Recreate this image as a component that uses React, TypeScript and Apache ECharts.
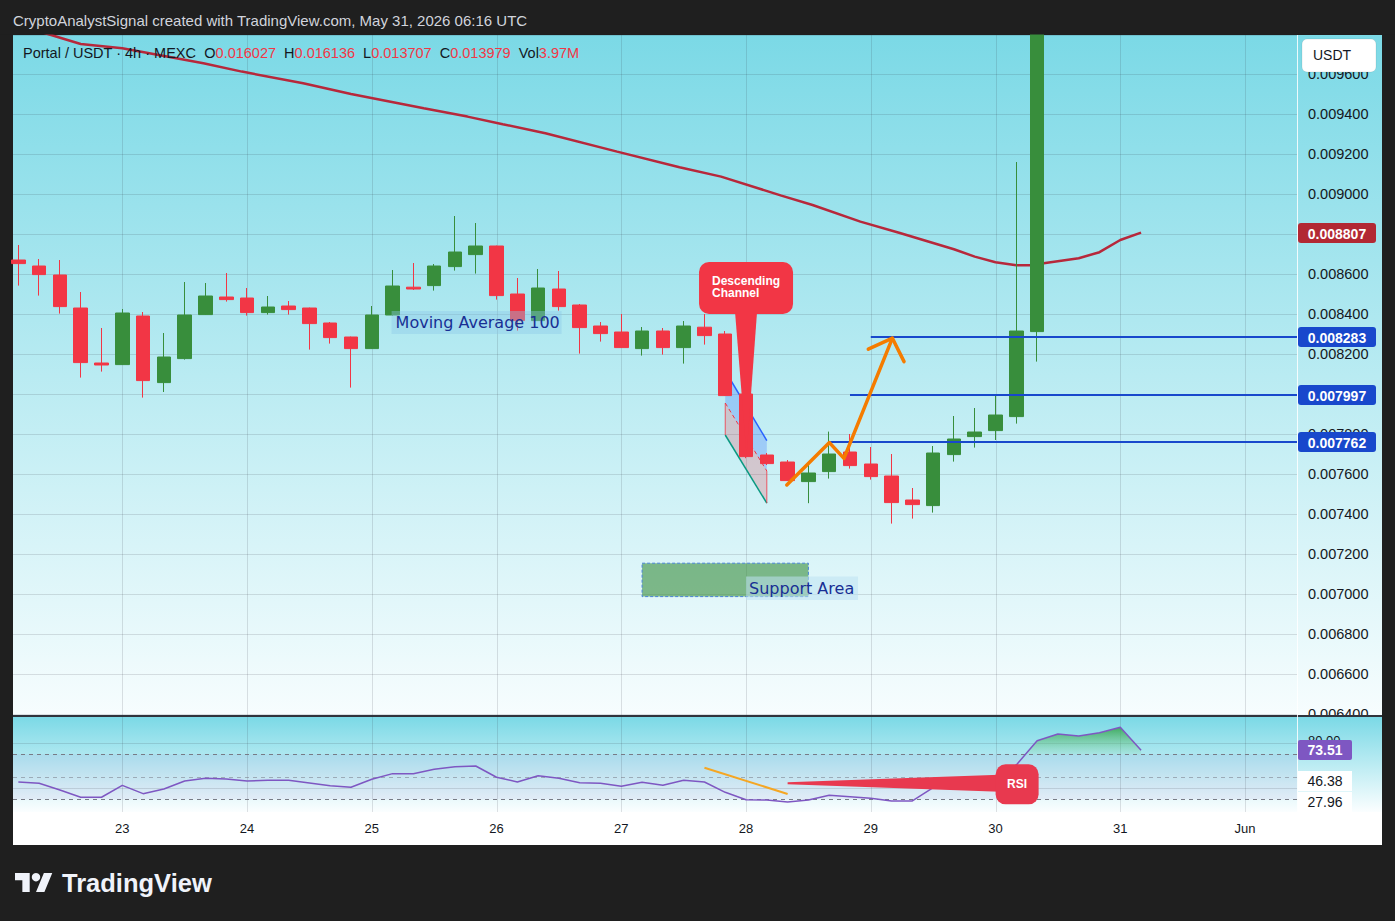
import React, { useEffect, useRef } from "react";
import * as echarts from "echarts";

const UI_FONT = '"Liberation Sans", Arial, sans-serif';
const DRAW_FONT = '"DejaVu Sans", Verdana, sans-serif';

// ---------- axes (x = candle index, 0 = 23 May 00:00, one step = 4h) ----------
const dayTicks = [0, 6, 12, 18, 24, 30, 36, 42, 48, 54];
const dayLabels = ["23", "24", "25", "26", "27", "28", "29", "30", "31", "Jun"];
const xMin = -5.257;
const xMax = 56.5;
const priceMin = 0.0064;
const priceMax = 0.009795;
const priceStep = 0.0002;
const rsiMin = 18.71;
const rsiMax = 104.04;

// ---------- candles [open, close, low, high] ----------
const firstCandle = -5;
const ohlc = [
  [0.00867, 0.008652, 0.008542, 0.008745],
  [0.00864, 0.008597, 0.008492, 0.008675],
  [0.008595, 0.008437, 0.008402, 0.00867],
  [0.00843, 0.008157, 0.008082, 0.00851],
  [0.008155, 0.008145, 0.008112, 0.00833],
  [0.008147, 0.008405, 0.008145, 0.008425],
  [0.00839, 0.008067, 0.007982, 0.00841],
  [0.008057, 0.008185, 0.00801, 0.008305],
  [0.008177, 0.008395, 0.008172, 0.00856],
  [0.008397, 0.00849, 0.008395, 0.008555],
  [0.008485, 0.008472, 0.008462, 0.008605],
  [0.00848, 0.008407, 0.008392, 0.00853],
  [0.008407, 0.008435, 0.008397, 0.00849],
  [0.00844, 0.008422, 0.008397, 0.008465],
  [0.00843, 0.008352, 0.008222, 0.008432],
  [0.008355, 0.008282, 0.008252, 0.00836],
  [0.008285, 0.008227, 0.008032, 0.008287],
  [0.008227, 0.008395, 0.008225, 0.00844],
  [0.008395, 0.00854, 0.008392, 0.00862],
  [0.008534, 0.008525, 0.00852, 0.008655],
  [0.008542, 0.00864, 0.008517, 0.00865],
  [0.008637, 0.00871, 0.008617, 0.00889],
  [0.008697, 0.00874, 0.008602, 0.008855],
  [0.00874, 0.008492, 0.008472, 0.008742],
  [0.0085, 0.008367, 0.008317, 0.00858],
  [0.008367, 0.00853, 0.008365, 0.008625],
  [0.008525, 0.008437, 0.008417, 0.008615],
  [0.008445, 0.008332, 0.008202, 0.00845],
  [0.00834, 0.008302, 0.008262, 0.00836],
  [0.00831, 0.008232, 0.00823, 0.0084],
  [0.008227, 0.008315, 0.008192, 0.008335],
  [0.008315, 0.008232, 0.008197, 0.00833],
  [0.008232, 0.00834, 0.008152, 0.008365],
  [0.008334, 0.008292, 0.008247, 0.0084],
  [0.0083, 0.007992, 0.00799, 0.008315],
  [0.008, 0.007687, 0.007679, 0.008005],
  [0.007695, 0.007652, 0.007645, 0.007705],
  [0.00766, 0.007567, 0.007565, 0.00767],
  [0.007562, 0.007605, 0.007454, 0.007645],
  [0.007612, 0.0077, 0.007577, 0.007812],
  [0.00771, 0.007642, 0.007627, 0.0078],
  [0.00765, 0.007587, 0.007572, 0.007735],
  [0.00759, 0.007457, 0.007352, 0.0077],
  [0.00747, 0.007447, 0.007377, 0.00753],
  [0.007442, 0.007705, 0.007407, 0.00774],
  [0.007697, 0.007775, 0.007662, 0.00789],
  [0.007787, 0.00781, 0.007732, 0.00793],
  [0.007817, 0.007895, 0.00777, 0.00799],
  [0.007887, 0.008315, 0.007852, 0.00916],
  [0.008312, 0.01435, 0.008162, 0.0151],
  [0.01435, 0.0156, 0.0139, 0.0164],
  [0.0156, 0.0153, 0.0147, 0.0162],
  [0.0153, 0.0159, 0.0149, 0.0165],
  [0.0159, 0.016027, 0.0152, 0.0166],
  [0.016027, 0.013979, 0.013707, 0.016136],
];

// ---------- Moving Average 100 (vertices [index, price]) ----------
const maPoints = [
  [-5.26, 0.009852], [-3.7, 0.009804], [-2, 0.00975], [0, 0.009729], [3.9, 0.009654],
  [5.75, 0.009612], [8.7, 0.009554], [11, 0.0095], [14.5, 0.009429], [16.6, 0.009387],
  [18.3, 0.009349], [20.35, 0.009304], [23.8, 0.009212], [26.8, 0.009134], [28.8, 0.009087],
  [31.7, 0.008992], [33.2, 0.008945], [35.5, 0.008862], [37.4, 0.008805], [40, 0.008724],
  [41, 0.008687], [42, 0.008659], [43, 0.008644], [43.7, 0.008644], [44.4, 0.008655],
  [46, 0.008679], [47, 0.008709], [48, 0.00877], [49, 0.008807],
];
const maLast = 0.008807;

// ---------- RSI ----------
const rsiValues = [
  45.4, 44.2, 38.3, 31.8, 31.8, 42.4, 35.0, 39.2, 46.3, 48.7, 48.0, 46.3, 46.9, 46.9, 44.5,
  42.1, 40.7, 47.8, 52.8, 52.8, 56.7, 59.0, 59.6, 49.6, 45.4, 51.0, 48.7, 44.8, 44.2, 41.6,
  45.1, 42.4, 46.9, 45.4, 36.2, 29.6, 29.4, 27.6, 29.4, 33.6, 32.3, 30.9, 28.5, 28.5, 40.3,
  43.3, 45.6, 48.7, 60.5, 82.1, 88.0, 86.3, 89.2, 94.0, 73.51,
];
const rsiLast = 73.51;
const rsiGridLevels = [80, 40];
const rsiBandLevels = [70, 50, 30];
const rsiSideValues = [46.38, 27.96];

// ---------- drawings ----------
const levelStartK = [36, 35, 34];
const levelPrices = [0.008283, 0.007997, 0.007762];
const channelK = [29, 31];
const channelTop = [0.008115, 0.007767];
const channelMid = [0.007955, 0.007615];
const channelBottom = [0.007795, 0.007454];
const arrowK = [31.96, 34.01, 34.71, 37.04];
const arrowP = [0.007545, 0.007757, 0.007678, 0.008279];
const arrowHeadK = [35.88, 37.04, 37.6];
const arrowHeadP = [0.008224, 0.008279, 0.008162];
const supportK = [25, 33];
const supportP = [0.006987, 0.007154];
const supportLabelAt = [30, 0.0070285];
const maLabelAt = [13, 0.0083575];
const channelCalloutTip = [30, 0.007695];
const rsiNoteK = [28, 32];
const rsiNoteV = [58.1, 34.7];
const rsiCalloutTip = [32, 44.2];

// ---------- texts ----------
const headerText = "CryptoAnalystSignal created with TradingView.com, May 31, 2026 06:16 UTC";
const symbolText = "Portal / USDT · 4h · MEXC";
const legendKeys = ["O", "H", "L", "C", "Vol"];
const legendValues = ["0.016027", "0.016136", "0.013707", "0.013979", "3.97M"];

const gridColor = "rgba(42,46,57,0.14)";
const GREEN = "#388e3c";
const RED = "#f23645";
const DARK = "#1f1f1f";

echarts.graphic.registerShape(
  "tvlogo",
  echarts.graphic.extendPath("M14 22H7V11H0V4h14v18zM28 22h-8l7.5-18h8L28 22z", {})
);

function renderDayGridMain(params: any, api: any) {
  const k = api.value(0);
  const x = Math.round(api.coord([k, priceMin])[0]) + 0.5;
  const y1 = api.coord([k, priceMax])[1];
  const y2 = api.coord([k, priceMin])[1] + 2;
  return { type: "line", shape: { x1: x, y1, x2: x, y2 }, style: { stroke: gridColor, lineWidth: 1 } };
}

function renderChannel(params: any, api: any) {
  const tl = api.coord([channelK[0], channelTop[0]]);
  const tr = api.coord([channelK[1], channelTop[1]]);
  const ml = api.coord([channelK[0], channelMid[0]]);
  const mr = api.coord([channelK[1], channelMid[1]]);
  const bl = api.coord([channelK[0], channelBottom[0]]);
  const br = api.coord([channelK[1], channelBottom[1]]);
  const ln = (a: number[], b: number[], style: any) => ({
    type: "line",
    shape: { x1: a[0], y1: a[1], x2: b[0], y2: b[1] },
    style,
  });
  return {
    type: "group",
    children: [
      { type: "polygon", shape: { points: [tl, tr, mr, ml] }, style: { fill: "rgba(41,98,255,0.25)" } },
      { type: "polygon", shape: { points: [ml, mr, br, bl] }, style: { fill: "rgba(242,54,69,0.22)" } },
      ln(tl, tr, { stroke: "#2962ff", lineWidth: 1.5 }),
      ln(ml, mr, { stroke: RED, lineWidth: 1, lineDash: [4, 3] }),
      ln(bl, br, { stroke: "#089981", lineWidth: 1.5 }),
      ln(ml, bl, { stroke: "rgba(242,54,69,0.8)", lineWidth: 1 }),
      ln(mr, br, { stroke: "rgba(242,54,69,0.8)", lineWidth: 1 }),
    ],
  };
}

function renderSupport(params: any, api: any) {
  const a = api.coord([supportK[0], supportP[1]]);
  const b = api.coord([supportK[1], supportP[0]]);
  const l = api.coord(supportLabelAt);
  return {
    type: "group",
    children: [
      {
        type: "rect",
        shape: { x: a[0], y: a[1], width: b[0] - a[0], height: b[1] - a[1] },
        style: { fill: "rgba(56,142,60,0.6)", stroke: "#4a84d8", lineWidth: 1, lineDash: [3, 2] },
      },
      {
        type: "rect",
        shape: { x: l[0], y: l[1] - 11.7, width: 112, height: 23.4 },
        style: { fill: "rgba(190,225,242,0.55)" },
      },
      {
        type: "text",
        style: {
          text: "Support Area",
          x: l[0] + 3,
          y: l[1],
          align: "left",
          verticalAlign: "middle",
          fill: "#182f94",
          font: `16px ${DRAW_FONT}`,
        },
      },
    ],
  };
}

function renderMaLabel(params: any, api: any) {
  const l = api.coord(maLabelAt);
  return {
    type: "group",
    children: [
      {
        type: "rect",
        shape: { x: l[0] - 1, y: l[1] - 11.5, width: 170, height: 23 },
        style: { fill: "rgba(140,200,232,0.4)" },
      },
      {
        type: "text",
        style: {
          text: "Moving Average 100",
          x: l[0] + 3,
          y: l[1],
          align: "left",
          verticalAlign: "middle",
          fill: "#182f94",
          font: `16px ${DRAW_FONT}`,
        },
      },
    ],
  };
}

function renderChannelCallout(params: any, api: any) {
  const t = api.coord(channelCalloutTip);
  const bx = t[0] - 47;
  const by = t[1] - 193;
  const bw = 94;
  const bh = 52;
  return {
    type: "group",
    children: [
      {
        type: "polygon",
        shape: { points: [[t[0] - 11, by + bh - 2], [t[0] + 11, by + bh - 2], [t[0] + 0.5, t[1]]] },
        style: { fill: RED },
      },
      { type: "rect", shape: { x: bx, y: by, width: bw, height: bh, r: 10 }, style: { fill: RED } },
      {
        type: "text",
        style: {
          text: "Descending\nChannel",
          x: bx + 13,
          y: by + 13,
          align: "left",
          verticalAlign: "top",
          lineHeight: 12,
          fill: "#ffffff",
          font: `bold 12px ${UI_FONT}`,
        },
      },
    ],
  };
}

function renderLevels(params: any, api: any) {
  const k = api.value(0);
  const p = api.value(1);
  const a = api.coord([k, p]);
  const b = api.coord([xMax, p]);
  const y = Math.round(a[1]);
  return { type: "line", shape: { x1: a[0], y1: y, x2: b[0], y2: y }, style: { stroke: "#1848cc", lineWidth: 2 } };
}

const badgePrices = [maLast, ...levelPrices];
const badgeColors = ["#b22833", "#1848cc", "#1848cc", "#1848cc"];

function renderPriceBadge(params: any, api: any) {
  const p = api.value(1);
  const pt = api.coord([xMax, p]);
  const x = pt[0] + 1;
  const y = Math.round(pt[1]);
  return {
    type: "group",
    children: [
      {
        type: "rect",
        shape: { x, y: y - 10, width: 78, height: 20, r: 3 },
        style: { fill: badgeColors[params.dataIndex] },
      },
      {
        type: "text",
        style: {
          text: p.toFixed(6),
          x: x + 39,
          y: y + 0.5,
          align: "center",
          verticalAlign: "middle",
          fill: "#ffffff",
          font: `bold 14px ${UI_FONT}`,
        },
      },
    ],
  };
}

function renderRsiFrame(params: any, api: any) {
  const L = api.coord([xMin, 70])[0];
  const R = api.coord([xMax, 70])[0];
  const yv = (v: number) => Math.round(api.coord([xMin, v])[1]) + 0.5;
  const top = api.coord([xMin, rsiMax])[1];
  const bot = api.coord([xMin, rsiMin])[1];
  const children: any[] = [];
  const t70 = api.coord([xMin, 70])[1];
  const t30 = api.coord([xMin, 30])[1];
  children.push({
    type: "rect",
    shape: { x: L, y: t70, width: R - L, height: t30 - t70 },
    style: { fill: "rgba(126,87,194,0.08)" },
  });
  dayTicks.forEach((k) => {
    const x = Math.round(api.coord([k, 50])[0]) + 0.5;
    children.push({ type: "line", shape: { x1: x, y1: top, x2: x, y2: bot }, style: { stroke: gridColor, lineWidth: 1 } });
  });
  rsiGridLevels.forEach((v) => {
    children.push({ type: "line", shape: { x1: L, y1: yv(v), x2: R, y2: yv(v) }, style: { stroke: gridColor, lineWidth: 1 } });
  });
  rsiBandLevels.forEach((v) => {
    children.push({
      type: "line",
      shape: { x1: L, y1: yv(v), x2: R, y2: yv(v) },
      style: { stroke: v === 50 ? "rgba(120,123,134,0.55)" : "#787b86", lineWidth: 1, lineDash: [4, 4] },
    });
  });
  return { type: "group", children };
}

const obGradient = new echarts.graphic.LinearGradient(0, 0, 0, 1, [
  { offset: 0, color: "rgba(56,165,80,0.9)" },
  { offset: 1, color: "rgba(130,210,150,0.15)" },
]);

function renderOverbought(params: any, api: any) {
  const runs: number[][][] = [];
  let cur: number[][] | null = null;
  for (let i = 0; i < rsiValues.length; i++) {
    const k = firstCandle + i;
    const v = rsiValues[i];
    if (i > 0) {
      const pv = rsiValues[i - 1];
      if ((pv - 70) * (v - 70) < 0) {
        const cross = [k - 1 + (70 - pv) / (v - pv), 70];
        if (v > 70) {
          cur = [cross];
          runs.push(cur);
        } else if (cur) {
          cur.push(cross);
          cur = null;
        }
      }
    }
    if (v > 70) {
      if (!cur) {
        cur = [[k, 70]];
        runs.push(cur);
      }
      cur.push([k, v]);
    }
  }
  if (cur) cur.push([cur[cur.length - 1][0], 70]);
  return {
    type: "group",
    children: runs.map((run) => ({
      type: "polygon",
      shape: { points: run.map((p) => api.coord(p)) },
      style: { fill: obGradient },
    })),
  };
}

function renderRsiCallout(params: any, api: any) {
  const t = api.coord(rsiCalloutTip);
  const bx = t[0] + 208;
  const by = t[1] - 19;
  const bw = 43;
  const bh = 40;
  const c = "#e8394f";
  return {
    type: "group",
    children: [
      {
        type: "polygon",
        shape: { points: [[t[0], t[1] - 1], [bx + 4, t[1] - 8.5], [bx + 4, t[1] + 8.5], [t[0], t[1] + 1]] },
        style: { fill: c },
      },
      { type: "rect", shape: { x: bx, y: by, width: bw, height: bh, r: 10 }, style: { fill: c } },
      {
        type: "text",
        style: {
          text: "RSI",
          x: bx + bw / 2,
          y: by + bh / 2,
          align: "center",
          verticalAlign: "middle",
          fill: "#ffffff",
          font: `bold 12px ${UI_FONT}`,
        },
      },
    ],
  };
}

function renderRsiBadges(params: any, api: any) {
  const x0 = api.coord([xMax, 50])[0] + 1;
  const y = (v: number) => Math.round(api.coord([xMax, v])[1]);
  const children: any[] = [];
  children.push({
    type: "text",
    style: {
      text: (80).toFixed(2),
      x: x0 + 10,
      y: y(80) - 3,
      align: "left",
      verticalAlign: "middle",
      fill: "#131722",
      font: `13px ${UI_FONT}`,
    },
  });
  rsiSideValues.forEach((v) => {
    children.push({ type: "rect", shape: { x: x0, y: y(v) - 10, width: 54, height: 20 }, style: { fill: "#ffffff" } });
    children.push({
      type: "text",
      style: {
        text: v.toFixed(2),
        x: x0 + 27,
        y: y(v),
        align: "center",
        verticalAlign: "middle",
        fill: "#131722",
        font: `14px ${UI_FONT}`,
      },
    });
  });
  children.push({
    type: "rect",
    shape: { x: x0, y: y(rsiLast) - 10, width: 54, height: 20, r: 2 },
    style: { fill: "#7e57c2" },
  });
  children.push({
    type: "text",
    style: {
      text: rsiLast.toFixed(2),
      x: x0 + 27,
      y: y(rsiLast),
      align: "center",
      verticalAlign: "middle",
      fill: "#ffffff",
      font: `bold 14px ${UI_FONT}`,
    },
  });
  return { type: "group", children };
}

function buildOption(): any {
  const candleData = ohlc.map((r, i) => [firstCandle + i, r[0], r[1], r[2], r[3]]);
  const rsiData = rsiValues.map((v, i) => [firstCandle + i, v]);
  const mainGrad = new echarts.graphic.LinearGradient(0, 0, 0, 1, [
    { offset: 0, color: "#7bd9e6" },
    { offset: 1, color: "#f7fdfe" },
  ]);
  const rsiGrad = new echarts.graphic.LinearGradient(0, 0, 0, 1, [
    { offset: 0, color: "#7bd9e6" },
    { offset: 1, color: "#fbfeff" },
  ]);

  let legend = `{n|${symbolText}}`;
  legendKeys.forEach((k, i) => {
    legend += `  {n|${k}}{r|${legendValues[i]}}`;
  });

  return {
    animation: false,
    backgroundColor: DARK,
    grid: [
      { left: 13, right: 98, top: 35, bottom: 921 - 714 },
      { left: 13, right: 98, top: 716, bottom: 921 - 812 },
    ],
    xAxis: [
      {
        type: "value",
        gridIndex: 0,
        min: xMin,
        max: xMax,
        show: false,
        splitLine: { show: false },
      },
      {
        type: "value",
        gridIndex: 1,
        min: xMin,
        max: xMax,
        axisLine: { show: false },
        axisTick: { show: false },
        splitLine: { show: false },
        axisLabel: {
          customValues: dayTicks,
          formatter: (v: number) => {
            const i = dayTicks.indexOf(Math.round(v));
            return i >= 0 ? dayLabels[i] : "";
          },
          color: "#131722",
          fontSize: 13,
          fontFamily: UI_FONT,
          margin: 10,
        },
      },
    ],
    yAxis: [
      {
        type: "value",
        gridIndex: 0,
        position: "right",
        min: priceMin,
        max: priceMax,
        interval: priceStep,
        axisLine: { show: false },
        axisTick: { show: false },
        splitLine: { show: true, lineStyle: { color: gridColor, width: 1 } },
        axisLabel: {
          formatter: (v: number) => v.toFixed(6),
          color: "#131722",
          fontSize: 14.5,
          fontFamily: UI_FONT,
          margin: 11,
          showMaxLabel: false,
          showMinLabel: true,
        },
      },
      {
        type: "value",
        gridIndex: 1,
        position: "right",
        min: rsiMin,
        max: rsiMax,
        show: false,
        splitLine: { show: false },
      },
    ],
    graphic: [
      { type: "rect", z: -5, shape: { x: 13, y: 35, width: 1369, height: 810 }, style: { fill: "#ffffff" } },
      { type: "rect", z: -4, shape: { x: 13, y: 35, width: 1369, height: 681 }, style: { fill: mainGrad } },
      { type: "rect", z: 1, shape: { x: 13, y: 717, width: 1369, height: 95 }, style: { fill: rsiGrad } },
      { type: "rect", z: 1, shape: { x: 13, y: 715, width: 1369, height: 2 }, style: { fill: "#30343c" } },
      {
        type: "line",
        z: 1,
        shape: { x1: 1297.5, y1: 35, x2: 1297.5, y2: 812 },
        style: { stroke: "rgba(255,255,255,0.85)", lineWidth: 1 },
      },
      // frame above the panel (hides the part of the pump candle that leaves the pane)
      { type: "rect", z: 9, shape: { x: 0, y: 0, width: 1395, height: 34.5 }, style: { fill: DARK } },
      {
        type: "text",
        z: 10,
        style: {
          text: headerText,
          x: 13,
          y: 20,
          verticalAlign: "middle",
          fill: "#d1d4dc",
          font: `15px ${UI_FONT}`,
        },
      },
      {
        type: "text",
        z: 10,
        style: {
          text: legend,
          x: 23,
          y: 53,
          verticalAlign: "middle",
          font: `14.5px ${UI_FONT}`,
          fill: "#131722",
          rich: {
            n: { fill: "#131722", fontSize: 14.5, fontFamily: UI_FONT },
            r: { fill: RED, fontSize: 14.5, fontFamily: UI_FONT },
          },
        },
      },
      {
        type: "rect",
        z: 10,
        shape: { x: 1302, y: 39, width: 74, height: 33, r: 5 },
        style: { fill: "#ffffff", stroke: "rgba(0,0,0,0.08)", lineWidth: 1 },
      },
      {
        type: "text",
        z: 11,
        style: {
          text: "USDT",
          x: 1313,
          y: 55,
          verticalAlign: "middle",
          fill: "#131722",
          font: `14px ${UI_FONT}`,
        },
      },
      {
        type: "tvlogo",
        z: 10,
        x: 15,
        y: 868.8,
        scaleX: 1.05,
        scaleY: 1.05,
        style: { fill: "#f0f3fa" },
      },
      {
        type: "circle",
        z: 10,
        shape: { cx: 15 + 20 * 1.05, cy: 868.8 + 8 * 1.05, r: 4 * 1.05 },
        style: { fill: "#f0f3fa" },
      },
      {
        type: "text",
        z: 10,
        style: {
          text: "TradingView",
          x: 62,
          y: 883,
          verticalAlign: "middle",
          fill: "#f0f3fa",
          font: `bold 25.5px ${UI_FONT}`,
        },
      },
    ],
    series: [
      {
        type: "custom",
        name: "dayGrid",
        xAxisIndex: 0,
        yAxisIndex: 0,
        z: 1,
        silent: true,
        data: dayTicks.map((k) => [k, priceMin]),
        renderItem: renderDayGridMain,
      },
      {
        type: "custom",
        name: "channel",
        xAxisIndex: 0,
        yAxisIndex: 0,
        z: 1,
        silent: true,
        data: [[channelK[0], channelTop[0]]],
        renderItem: renderChannel,
      },
      {
        type: "custom",
        name: "support",
        xAxisIndex: 0,
        yAxisIndex: 0,
        z: 2,
        silent: true,
        data: [[supportK[0], supportP[0]]],
        renderItem: renderSupport,
      },
      {
        type: "line",
        name: "MA100",
        xAxisIndex: 0,
        yAxisIndex: 0,
        z: 2,
        data: maPoints,
        symbol: "none",
        clip: true,
        lineStyle: { color: "#b7283b", width: 2.5 },
      },
      {
        type: "candlestick",
        name: "Portal/USDT",
        xAxisIndex: 0,
        yAxisIndex: 0,
        z: 3,
        clip: true,
        barWidth: 14,
        data: candleData,
        encode: { x: 0, y: [1, 2, 3, 4] },
        itemStyle: {
          color: GREEN,
          color0: RED,
          borderColor: GREEN,
          borderColor0: RED,
          borderWidth: 1,
        },
      },
      {
        type: "custom",
        name: "maLabel",
        xAxisIndex: 0,
        yAxisIndex: 0,
        z: 4,
        silent: true,
        data: [maLabelAt],
        renderItem: renderMaLabel,
      },
      {
        type: "custom",
        name: "levels",
        xAxisIndex: 0,
        yAxisIndex: 0,
        z: 5,
        silent: true,
        data: levelStartK.map((k, i) => [k, levelPrices[i]]),
        renderItem: renderLevels,
      },
      {
        type: "line",
        name: "arrow",
        xAxisIndex: 0,
        yAxisIndex: 0,
        z: 5,
        data: arrowK.map((k, i) => [k, arrowP[i]]),
        symbol: "none",
        lineStyle: { color: "#f57c00", width: 3.5, cap: "round", join: "round" },
      },
      {
        type: "line",
        name: "arrowHead",
        xAxisIndex: 0,
        yAxisIndex: 0,
        z: 5,
        data: arrowHeadK.map((k, i) => [k, arrowHeadP[i]]),
        symbol: "none",
        lineStyle: { color: "#f57c00", width: 3.5, cap: "round", join: "round" },
      },
      {
        type: "custom",
        name: "channelCallout",
        xAxisIndex: 0,
        yAxisIndex: 0,
        z: 6,
        silent: true,
        data: [channelCalloutTip],
        renderItem: renderChannelCallout,
      },
      {
        type: "custom",
        name: "priceBadges",
        xAxisIndex: 0,
        yAxisIndex: 0,
        z: 7,
        silent: true,
        data: badgePrices.map((p) => [xMax, p]),
        renderItem: renderPriceBadge,
      },
      // ---- RSI pane ----
      {
        type: "custom",
        name: "rsiFrame",
        xAxisIndex: 1,
        yAxisIndex: 1,
        z: 2,
        silent: true,
        data: [[0, 50]],
        renderItem: renderRsiFrame,
      },
      {
        type: "custom",
        name: "rsiOverbought",
        xAxisIndex: 1,
        yAxisIndex: 1,
        z: 3,
        silent: true,
        data: [[0, 70]],
        renderItem: renderOverbought,
      },
      {
        type: "line",
        name: "RSI",
        xAxisIndex: 1,
        yAxisIndex: 1,
        z: 4,
        data: rsiData,
        symbol: "none",
        lineStyle: { color: "#7e57c2", width: 1.5 },
      },
      {
        type: "line",
        name: "rsiNote",
        xAxisIndex: 1,
        yAxisIndex: 1,
        z: 4,
        data: rsiNoteK.map((k, i) => [k, rsiNoteV[i]]),
        symbol: "none",
        lineStyle: { color: "#f5a623", width: 2 },
      },
      {
        type: "custom",
        name: "rsiCallout",
        xAxisIndex: 1,
        yAxisIndex: 1,
        z: 6,
        silent: true,
        data: [rsiCalloutTip],
        renderItem: renderRsiCallout,
      },
      {
        type: "custom",
        name: "rsiBadges",
        xAxisIndex: 1,
        yAxisIndex: 1,
        z: 7,
        silent: true,
        data: [[xMax, rsiLast]],
        renderItem: renderRsiBadges,
      },
    ],
  };
}

export default function App() {
  const ref = useRef<HTMLDivElement>(null);
  useEffect(() => {
    if (!ref.current) return;
    const chart = echarts.init(ref.current, null, { renderer: "svg" });
    chart.setOption(buildOption());
    return () => chart.dispose();
  }, []);
  return (
    <div
      ref={ref}
      style={{ position: "absolute", left: 0, top: 0, width: 1395, height: 921 }}
    />
  );
}
